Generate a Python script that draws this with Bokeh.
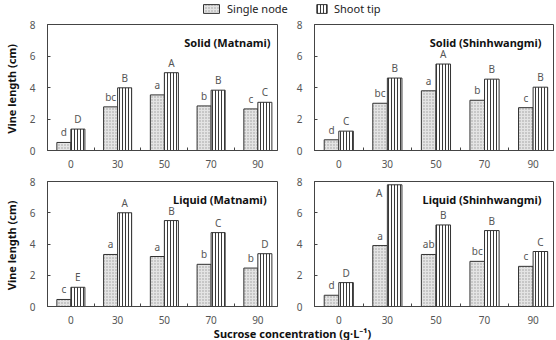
from bokeh.plotting import figure
from bokeh.layouts import column, row
from bokeh.models import (ColumnDataSource, Range1d, FixedTicker, Label, Legend,
                          LegendItem)
from bokeh.core.properties import value
from bokeh.embed import file_html
from bokeh.resources import INLINE
import numpy as np

# Sucrose concentrations (g/L) on the x axis
concentrations = ["0", "30", "50", "70", "90"]

# Vine length (cm) per explant type, with Duncan letters
solid_matnami_node = [0.51, 2.77, 3.53, 2.83, 2.64]
solid_matnami_tip = [1.36, 3.98, 4.94, 3.83, 3.06]
solid_matnami_node_sig = ["d", "bc", "a", "b", "c"]
solid_matnami_tip_sig = ["D", "B", "A", "B", "C"]

solid_shin_node = [0.68, 3.00, 3.79, 3.19, 2.72]
solid_shin_tip = [1.23, 4.60, 5.49, 4.53, 4.02]
solid_shin_node_sig = ["d", "bc", "a", "b", "c"]
solid_shin_tip_sig = ["C", "B", "A", "B", "B"]

liquid_matnami_node = [0.45, 3.33, 3.20, 2.70, 2.46]
liquid_matnami_tip = [1.23, 6.00, 5.50, 4.73, 3.38]
liquid_matnami_node_sig = ["c", "a", "a", "b", "b"]
liquid_matnami_tip_sig = ["E", "A", "B", "C", "D"]

liquid_shin_node = [0.72, 3.90, 3.33, 2.89, 2.57]
liquid_shin_tip = [1.53, 7.79, 5.22, 4.86, 3.52]
liquid_shin_node_sig = ["d", "a", "ab", "bc", "c"]
liquid_shin_tip_sig = ["D", "A", "B", "B", "C"]

y_ticks = [0, 2, 4, 6, 8]

FONT = "Noto Sans"
GRAY = "#555555"
BAR_W = 0.3
X_END = 4.42

node_style = dict(fill_color="#e4e4e4", hatch_pattern="dot", hatch_color="#9a9a9a",
                  hatch_scale=3, hatch_weight=1, line_color="#333333", line_width=1)
tip_style = dict(fill_color="white", hatch_pattern="vertical_line", hatch_color="#3a3a3a",
                 hatch_scale=3, hatch_weight=1, line_color="#333333", line_width=1)


def panel(title, node, tip, node_sig, tip_sig, width, height, b_left, b_right, b_top,
          b_bottom, title_inset, ylabel):
    p = figure(width=width, height=height, output_backend="svg", toolbar_location=None,
               x_range=Range1d(-0.5, X_END), y_range=Range1d(0, 8),
               min_border_left=b_left, min_border_right=b_right, min_border_top=b_top,
               min_border_bottom=b_bottom)
    p.grid.visible = False
    p.outline_line_color = "#444444"
    p.background_fill_color = "white"
    p.border_fill_color = "white"

    idx = np.arange(len(concentrations))
    src = ColumnDataSource(dict(
        xn=idx - BAR_W / 2, xt=idx + BAR_W / 2, node=node, tip=tip,
        node_sig=node_sig, tip_sig=tip_sig))
    p.vbar(x="xn", top="node", width=BAR_W, source=src, **node_style)
    p.vbar(x="xt", top="tip", width=BAR_W, source=src, **tip_style)

    # significance letters above each bar; a letter that would leave the frame goes beside its bar
    ymax = p.y_range.end
    fits = [v < ymax - 0.6 for v in tip]
    over = [not f for f in fits]
    above = ColumnDataSource(dict(
        x=[x for x, f in zip(idx + BAR_W / 2, fits) if f],
        y=[v for v, f in zip(tip, fits) if f],
        t=[s for s, f in zip(tip_sig, fits) if f]))
    beside = ColumnDataSource(dict(
        x=[x for x, f in zip(idx, over) if f],
        y=[v for v, f in zip(tip, over) if f],
        t=[s for s, f in zip(tip_sig, over) if f]))
    text_kw = dict(text_font=value(FONT), text_font_size="10px", text_color=GRAY)
    p.text(x="xn", y="node", text="node_sig", source=src, text_align="center",
           text_baseline="bottom", y_offset=-3, **text_kw)
    p.text(x="x", y="y", text="t", source=above, text_align="center",
           text_baseline="bottom", y_offset=-3, **text_kw)
    p.text(x="x", y="y", text="t", source=beside, text_align="right",
           text_baseline="top", x_offset=-5, y_offset=1, **text_kw)

    p.add_layout(Label(x=X_END, y=8, x_offset=-title_inset, y_offset=-17.5, text=title,
                       text_align="right", text_baseline="middle", text_font=FONT,
                       text_font_size="11px", text_font_style="bold", text_color="#111111"))

    xa = p.xaxis[0]
    xa.ticker = FixedTicker(ticks=list(idx), minor_ticks=list(idx[:-1] + 0.5))
    xa.major_label_overrides = {int(i): c for i, c in zip(idx, concentrations)}
    xa.major_tick_in = 0
    xa.major_tick_out = 0
    xa.minor_tick_in = 3
    xa.minor_tick_out = 0
    xa.axis_line_color = "#444444"
    xa.minor_tick_line_color = "#444444"
    xa.major_label_standoff = 9
    xa.major_label_text_font = FONT
    xa.major_label_text_font_size = "10px"
    xa.major_label_text_color = GRAY

    ya = p.yaxis[0]
    ya.ticker = FixedTicker(ticks=y_ticks)
    ya.major_tick_in = 3
    ya.major_tick_out = 0
    ya.minor_tick_line_color = None
    ya.axis_line_color = "#444444"
    ya.major_tick_line_color = "#444444"
    ya.major_label_standoff = 12
    ya.major_label_text_font = FONT
    ya.major_label_text_font_size = "10px"
    ya.major_label_text_color = GRAY
    if ylabel:
        ya.axis_label = "Vine  length (cm)"
        ya.axis_label_text_font = FONT
        ya.axis_label_text_font_size = "11px"
        ya.axis_label_text_font_style = "bold"
        ya.axis_label_text_color = "#111111"
        ya.axis_label_standoff = 8
    return p


# legend strip across the top: hidden copies of the bar glyphs provide the swatches
leg = figure(width=556, height=17, output_backend="svg", toolbar_location=None,
             x_range=Range1d(-0.5, X_END), y_range=Range1d(0, 8), min_border=0)
leg.axis.visible = False
leg.grid.visible = False
leg.outline_line_color = None
leg_src = ColumnDataSource(dict(x=np.arange(len(concentrations)),
                                node=solid_matnami_node, tip=solid_matnami_tip))
r_node = leg.vbar(x="x", top="node", width=BAR_W, source=leg_src, visible=False, **node_style)
r_tip = leg.vbar(x="x", top="tip", width=BAR_W, source=leg_src, visible=False, **tip_style)
for name, rend, gw, xloc in [("Single node", r_node, 20, 201), ("Shoot tip", r_tip, 13, 315)]:
    lg = Legend(items=[LegendItem(label=name, renderers=[rend], index=0)], location=(xloc, 1),
                orientation="horizontal", glyph_width=gw, glyph_height=11,
                label_height=11, label_standoff=6, padding=0, margin=0, spacing=0,
                border_line_color=None, background_fill_alpha=0,
                inactive_fill_alpha=0, click_policy="none",
                label_text_font=FONT, label_text_font_size="11px",
                label_text_color="#222222")
    leg.add_layout(lg, "center")

p1 = panel("Solid (Matnami)", solid_matnami_node, solid_matnami_tip,
           solid_matnami_node_sig, solid_matnami_tip_sig,
           293, 155, 43, 16, 7, 22, 7, True)
p2 = panel("Solid (Shinhwangmi)", solid_shin_node, solid_shin_tip,
           solid_shin_node_sig, solid_shin_tip_sig,
           263, 155, 21, 3, 7, 22, 12, False)
p3 = panel("Liquid  (Matnami)", liquid_matnami_node, liquid_matnami_tip,
           liquid_matnami_node_sig, liquid_matnami_tip_sig,
           293, 154, 43, 16, 9, 20, 8, True)
p4 = panel("Liquid (Shinhwangmi)", liquid_shin_node, liquid_shin_tip,
           liquid_shin_node_sig, liquid_shin_tip_sig,
           263, 154, 21, 3, 9, 20, 12, False)

# shared x-axis title
xt = figure(width=556, height=14, output_backend="svg", toolbar_location=None,
            x_range=Range1d(0, 1), y_range=Range1d(0, 1), min_border=0)
xt.axis.visible = False
xt.grid.visible = False
xt.outline_line_color = None
xt.add_layout(Label(x=292, y=0, x_units="screen", y_units="screen",
                    text="Sucrose concentration (g\u00b7L\u207b\u00b9)", text_align="center",
                    text_baseline="bottom", text_font=FONT, text_font_size="11px",
                    text_font_style="bold", text_color="#111111"))

layout = column(leg, row(p1, p2), row(p3, p4), xt, spacing=0)
open("out.html", "w").write(file_html(layout, INLINE))
